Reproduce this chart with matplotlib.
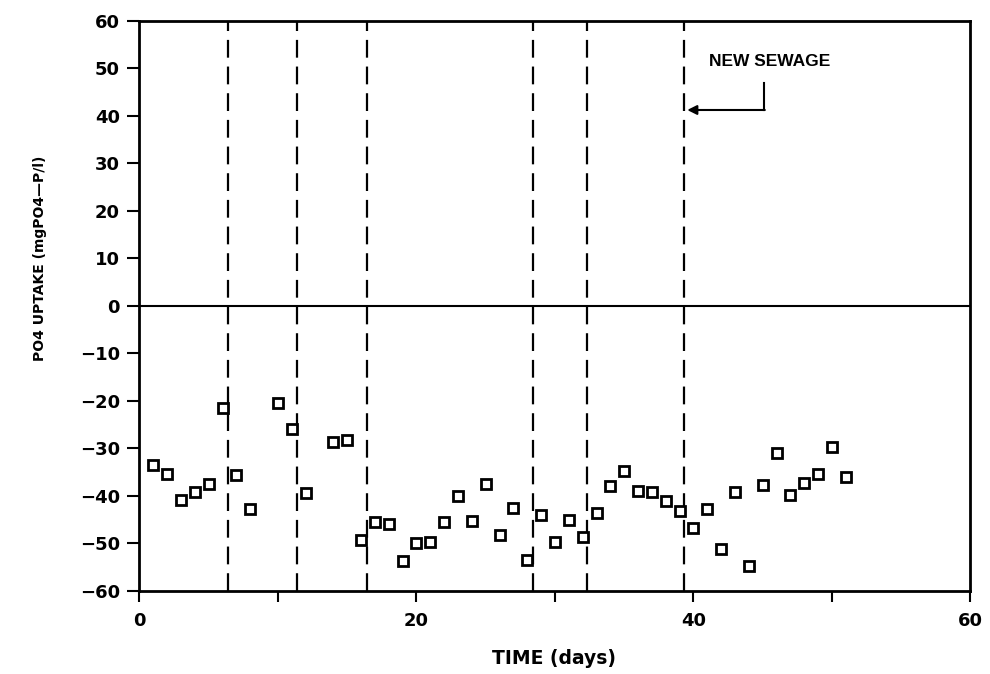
import matplotlib
matplotlib.use("Agg")
import matplotlib.pyplot as plt
from matplotlib.ticker import FixedLocator

# ---- data ----
days = [1, 2, 3, 4, 5, 6, 7, 8,
        10, 11, 12,
        14, 15, 16, 17, 18, 19, 20, 21, 22, 23, 24, 25, 26, 27, 28, 29, 30,
        31, 32, 33, 34, 35, 36, 37, 38, 39, 40, 41, 42, 43, 44, 45, 46, 47,
        48, 49, 50, 51]
uptake = [-33.5, -35.4, -41.0, -39.3, -37.5, -21.5, -35.6, -42.7,
          -20.5, -26.0, -39.4,
          -28.6, -28.2, -49.3, -45.5, -46.0, -53.7, -50.0, -49.7, -45.6,
          -40.1, -45.4, -37.5, -48.2, -42.5, -53.5, -44.0, -49.7,
          -45.2, -48.7, -43.6, -38.0, -34.7, -39.1, -39.3, -41.2, -43.2,
          -46.9, -42.7, -51.2, -39.3, -54.7, -37.7, -31.0, -39.9,
          -37.3, -35.4, -29.7, -36.1]
sewage_days = [6.4, 11.4, 16.4, 28.4, 32.3, 39.3]
x_ticks_labeled = [0, 20, 40, 60]
x_ticks_minor = [10, 30, 50]
y_ticks = list(range(-60, 61, 10))
annot_text = "NEW SEWAGE"
xlabel = "TIME (days)"
ylabel = "PO4 UPTAKE (mgPO4\u2014P/l)"

fig = plt.figure(figsize=(9.9, 6.74), dpi=100)
ax = fig.add_axes([0.1409, 0.1236, 0.8394, 0.8457])

ax.set_xlim(0, 60)
ax.set_ylim(-60, 60)

for d in sewage_days:
    ax.axvline(d, color="black", lw=1.6, linestyle=(0, (8, 4)), zorder=1)

ax.axhline(0, color="black", lw=1.5, zorder=1)

ax.plot(days, uptake, linestyle="none", marker="s", ms=7.2,
        mfc="white", mec="black", mew=2.0, zorder=3)

for s in ax.spines.values():
    s.set_linewidth(2.0)

ax.xaxis.set_major_locator(FixedLocator(x_ticks_labeled))
ax.xaxis.set_minor_locator(FixedLocator(x_ticks_minor))
ax.yaxis.set_major_locator(FixedLocator(y_ticks))
ax.set_yticklabels([("\u2212" + str(-v)) if v < 0 else str(v) for v in y_ticks])

ax.tick_params(axis="y", which="major", direction="out", length=9, width=1.5,
               pad=5, labelsize=13)
ax.tick_params(axis="x", which="both", direction="out", length=8, width=1.5,
               pad=7, labelsize=13)
for lab in ax.get_xticklabels() + ax.get_yticklabels():
    lab.set_fontweight("bold")

# labels
fig.text(554 / 990, 1 - 658 / 674, xlabel, ha="center", va="center",
         fontsize=13.5, fontweight="bold")
fig.text(40 / 990, 1 - 258 / 674, ylabel, ha="center", va="center",
         rotation=90, fontsize=10, fontweight="bold")

# annotation
ax.text(45.5, 51.5, annot_text, ha="center", va="center", fontsize=12.5,
        fontweight="bold", family=["Liberation Sans", "DejaVu Sans"])
ax.plot([45.1, 45.1], [46.9, 41.2], color="black", lw=1.5)
ax.annotate("", xy=(39.55, 41.2), xytext=(45.15, 41.2),
            arrowprops=dict(arrowstyle="-|>", color="black", lw=1.5,
                            mutation_scale=14, shrinkA=0, shrinkB=0))

fig.savefig("out.png", dpi=100)
